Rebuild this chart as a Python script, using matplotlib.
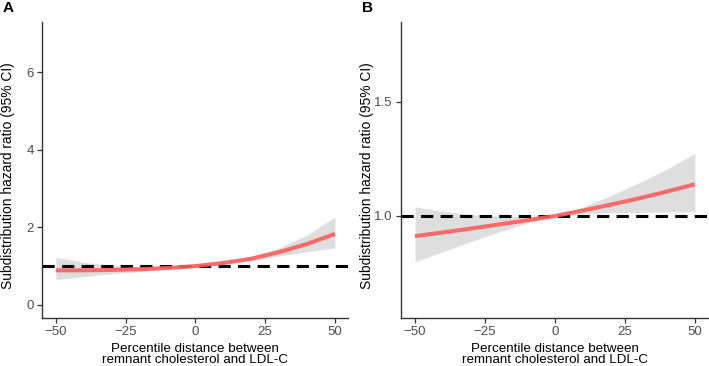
import numpy as np
import matplotlib
matplotlib.use("Agg")
import matplotlib.pyplot as plt

plt.rcParams['font.family'] = ['Liberation Sans', 'DejaVu Sans']

# percentile distance grid
dist = [-50, -40, -30, -20, -10, 0, 10, 20, 30, 40, 50]

# panel A
hr_a = [0.89, 0.89, 0.90, 0.92, 0.95, 1.00, 1.08, 1.19, 1.36, 1.57, 1.83]
lo_a = [0.65, 0.73, 0.80, 0.86, 0.92, 0.99, 1.05, 1.14, 1.26, 1.37, 1.47]
hi_a = [1.23, 1.10, 1.02, 0.98, 0.99, 1.02, 1.11, 1.25, 1.47, 1.80, 2.27]

# panel B
hr_b = [0.912, 0.928, 0.945, 0.963, 0.981, 1.000, 1.024, 1.050, 1.077, 1.107, 1.139]
lo_b = [0.800, 0.844, 0.888, 0.930, 0.968, 1.000, 1.010, 1.014, 1.016, 1.018, 1.019]
hi_b = [1.040, 1.020, 1.006, 1.000, 0.998, 1.000, 1.040, 1.090, 1.145, 1.205, 1.275]

xticks = [-50, -25, 0, 25, 50]

panels = [
    ("A", hr_a, lo_a, hi_a, (-0.34, 7.3), [0, 2, 4, 6], ["0", "2", "4", "6"]),
    ("B", hr_b, lo_b, hi_b, (0.553, 1.85), [1.0, 1.5], ["1.0", "1.5"]),
]
positions = [
    [42 / 709, 48 / 366, 306 / 709, 296 / 366],
    [401 / 709, 48 / 366, 307 / 709, 296 / 366],
]

fig = plt.figure(figsize=(7.09, 3.66), dpi=100)
fig.patch.set_facecolor('white')

for (tag, hr, lo, hi, ylim, yt, ytl), pos in zip(panels, positions):
    ax = fig.add_axes(pos)
    ax.fill_between(dist, lo, hi, color='#DEDEDE', linewidth=0, zorder=1)
    ax.axhline(1.0, color='black', linestyle=(0, (4, 2.4)), linewidth=2.2, zorder=2)
    ax.plot(dist, hr, color='#FF5C5C', linewidth=2.9, alpha=0.9, zorder=3,
            solid_capstyle='butt')
    ax.set_xlim(-55, 54.7)
    ax.set_ylim(*ylim)
    ax.set_xticks(xticks)
    ax.set_xticklabels([str(t).replace('-', '\u2212') for t in xticks])
    ax.set_yticks(yt)
    ax.set_yticklabels(ytl)
    for s in ['top', 'right']:
        ax.spines[s].set_visible(False)
    for s in ['left', 'bottom']:
        ax.spines[s].set_color('#333333')
        ax.spines[s].set_linewidth(1.0)
    ax.tick_params(direction='out', length=3.5, width=0.9, color='#333333',
                   labelsize=9.5, labelcolor='#4D4D4D', pad=2.5)
    ax.set_xlabel("Percentile distance between\nremnant cholesterol and LDL-C",
                  fontsize=9.6, color='black', labelpad=3, linespacing=0.9)
    ax.set_ylabel("Subdistribution hazard ratio (95% CI)", fontsize=9.9,
                  color='black')
    # label sits a bit left of the tick labels and slightly below centre
    ax.yaxis.set_label_coords((15 - 42) / pos[2] / 709, 0.482)
    fig.text(pos[0] - 39 / 709, 1 - 8 / 366, tag, fontsize=11, fontweight='bold',
             ha='left', va='center')

fig.savefig("out.png", dpi=100)
